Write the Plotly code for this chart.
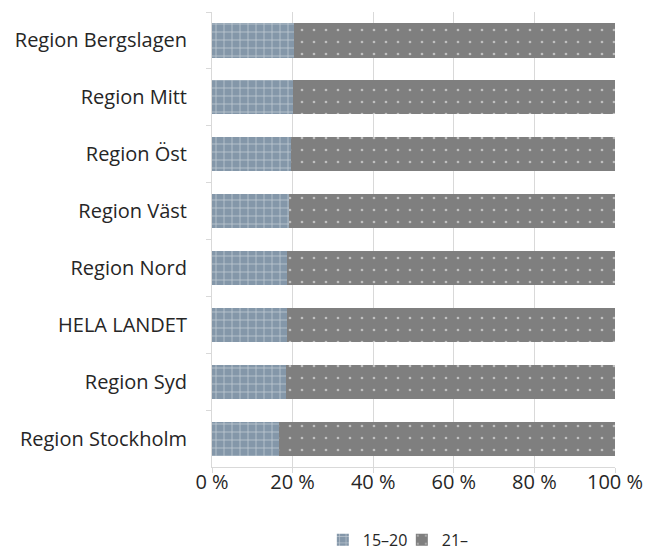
import plotly.graph_objects as go

# Regions, top to bottom
regions = [
    "Region Bergslagen",
    "Region Mitt",
    "Region Öst",
    "Region Väst",
    "Region Nord",
    "HELA LANDET",
    "Region Syd",
    "Region Stockholm",
]

# Share (%) per age group
share_15_20 = [20.3, 20.0, 19.7, 19.0, 18.7, 18.7, 18.3, 16.5]
share_21_plus = [79.7, 80.0, 80.3, 81.0, 81.3, 81.3, 81.7, 83.5]

tick_vals = [0, 20, 40, 60, 80, 100]
tick_text = ["0 %", "20 %", "40 %", "60 %", "80 %", "100 %"]

FONT = "Open Sans"
TEXT = "#262626"
GRID = "#D9D9D9"

fig = go.Figure()
fig.add_trace(go.Bar(
    y=regions, x=share_15_20, orientation="h", name="15–20",
    marker=dict(
        color="#8497A9",
        line=dict(width=0),
        pattern=dict(shape="+", fgcolor="white", size=8, solidity=0.18,
                     fillmode="overlay"),
    ),
))
fig.add_trace(go.Bar(
    y=regions, x=share_21_plus, orientation="h", name="21–",
    marker=dict(
        color="#7F7F7F",
        line=dict(width=0),
        pattern=dict(shape=".", fgcolor="white", size=12, solidity=0.04,
                     fillmode="overlay"),
    ),
))

fig.update_layout(
    width=647, height=560,
    barmode="stack", bargap=0.4,
    paper_bgcolor="white", plot_bgcolor="white",
    margin=dict(l=212, r=32, t=12, b=93, autoexpand=False),
    font=dict(family=FONT, size=20, color=TEXT),
    showlegend=True,
    legend=dict(orientation="h", x=0.275, xanchor="left", y=-0.16,
                yanchor="middle", font=dict(size=16, color=TEXT),
                itemwidth=30, entrywidth=34, entrywidthmode="pixels",
                traceorder="normal"),
)
fig.update_xaxes(
    range=[0, 100], tickvals=tick_vals, ticktext=tick_text,
    showgrid=True, gridcolor=GRID, gridwidth=1,
    showline=True, linecolor=GRID, linewidth=1,
    ticks="outside", ticklen=5, tickcolor=GRID,
    ticklabelstandoff=-8,
    zeroline=False, fixedrange=True,
)
fig.update_yaxes(
    autorange="reversed", tickson="boundaries",
    showline=True, linecolor=GRID, linewidth=1,
    ticks="outside", ticklen=5, tickcolor=GRID,
    ticklabelstandoff=20,
    showgrid=False, zeroline=False,
)

fig.write_html("out.html")
